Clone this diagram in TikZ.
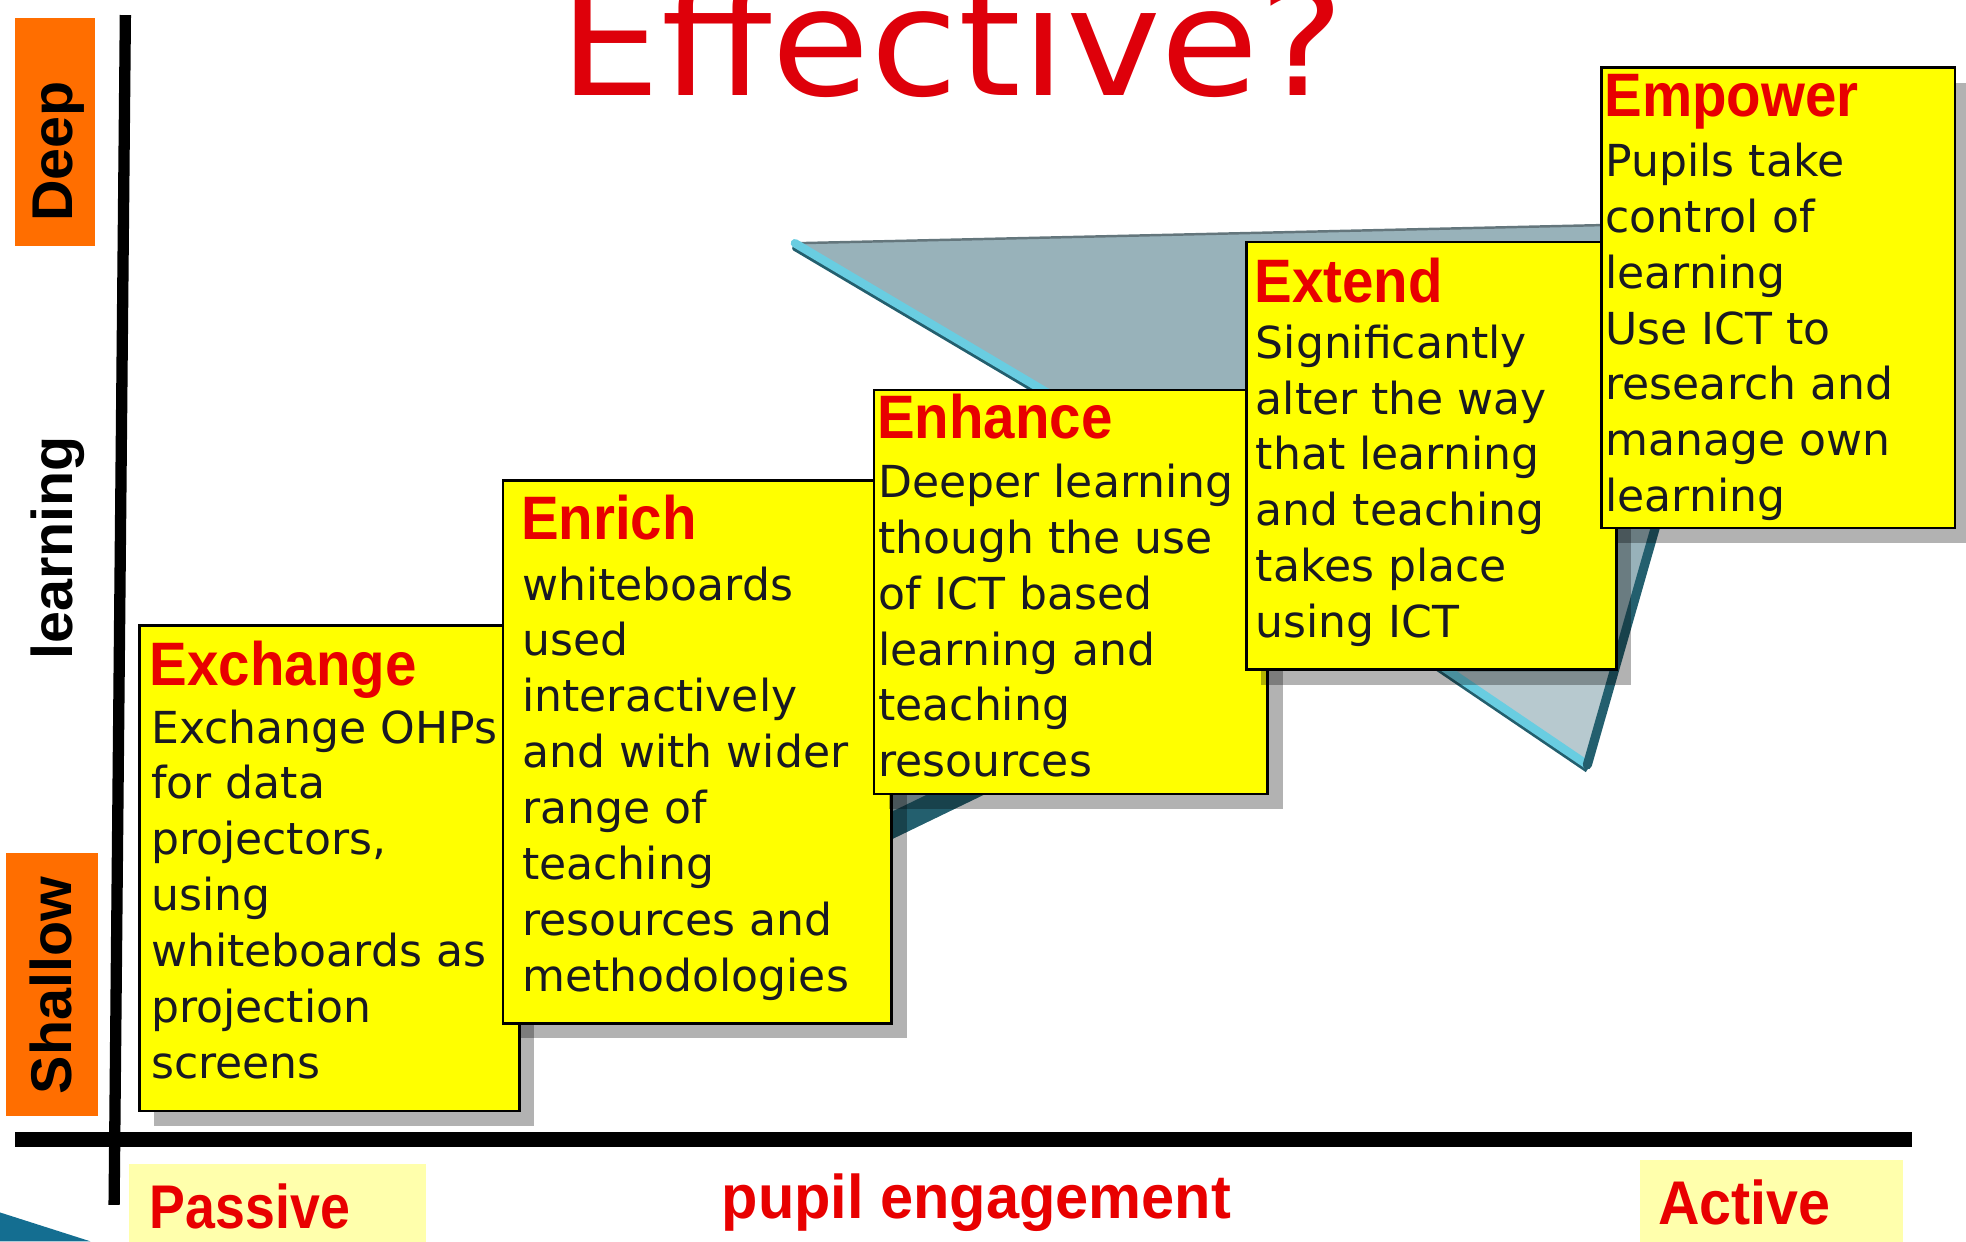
\documentclass[tikz,border=0pt]{standalone}
\usepackage{fontspec}
\usepackage{graphicx}
\setmainfont{DejaVu Sans}
\newfontfamily\labfont{Liberation Sans}
\newfontfamily\bodyfont{DejaVu Sans}
\usetikzlibrary{shadows}

\definecolor{boxyellow}{RGB}{255,255,0}
\definecolor{orangelab}{RGB}{255,110,0}
\definecolor{paleyellow}{RGB}{255,255,172}
\definecolor{headred}{RGB}{232,0,0}
\definecolor{titlered}{RGB}{222,0,10}
\definecolor{bodyink}{RGB}{25,25,35}
\definecolor{shapefill}{RGB}{152,178,186}
\definecolor{bevcyan}{RGB}{105,205,225}
\definecolor{tealdark}{RGB}{35,95,110}
\definecolor{topedge}{RGB}{100,118,124}
\definecolor{cornerteal}{RGB}{20,110,145}

\newcommand\hdtxt[1]{\scalebox{0.92}[1]{#1}}

\tikzset{
  stepbox/.style={draw=black, line width=0.75pt, fill=boxyellow, inner sep=0pt, anchor=north west,
     drop shadow={shadow xshift=0.15cm, shadow yshift=-0.15cm, fill=black, opacity=0.3}},
  headtxt/.style={anchor=base west, inner sep=0pt, text=headred,
     font=\labfont\bfseries\fontsize{17.4}{20}\selectfont},
  bodytxt/.style={anchor=north west, inner sep=0pt, align=left, text=bodyink,
     font=\bodyfont\fontsize{12.5}{15.86}\selectfont},
  orangebox/.style={fill=orangelab, draw=none, inner sep=0pt},
  palebox/.style={fill=paleyellow, draw=none, inner sep=0pt},
  sidetxt/.style={rotate=90, inner sep=0pt, text=black,
     font=\labfont\bfseries\fontsize{16.3}{19}\selectfont},
  bottomtxt/.style={anchor=base west, inner sep=0pt, text=headred,
     font=\labfont\bfseries\fontsize{17.5}{20}\selectfont},
  titletxt/.style={anchor=base west, inner sep=0pt, text=titlered,
     font=\bodyfont\fontsize{42.5}{50}\selectfont},
}

\begin{document}
\begin{tikzpicture}[x=0.0125cm, y=-0.0125cm]
\useasboundingbox (0,0) rectangle (1568,990);

% corner decoration
\fill[cornerteal] (0,967) -- (72,990) -- (0,990) -- cycle;

% title
\node[titletxt] (title) at (446,76) {\scalebox{1.07}[1]{Effective?}};

% background 3D shape
\coordinate (sA) at (634,194);
\coordinate (sB) at (1390,177);
\coordinate (sC) at (1266,610);
\coordinate (sD) at (1086,488);
\coordinate (sE) at (712,669);
\coordinate (sF) at (700,500);
\coordinate (sG) at (840,316);
\fill[shapefill] (sA) -- (sB) -- (sC) -- (sD) -- (sE) -- (sF) -- (sG) -- cycle;
\fill[shapefill!70!white] (sC) -- (1157,536) -- (1290,536) -- cycle;
\fill[tealdark] (712,669) -- (1086,488) -- (1086,466) -- (712,647) -- cycle;
\draw[topedge, line width=0.7pt] (sA) -- (sB);
\draw[tealdark, line width=1.6pt, line cap=round] ([yshift=-1.4pt]sA) -- ([yshift=-1.4pt]sG);
\draw[bevcyan, line width=2.4pt, line cap=round] (sA) -- (sG);
\draw[tealdark, line width=1.6pt] ([yshift=-1.4pt]sC) -- ([yshift=-1.4pt]sD);
\draw[bevcyan, line width=2.4pt] (sC) -- (sD);
\draw[tealdark, line width=2.6pt, line cap=round] (sB) -- (sC);

% axes
\coordinate (ytop) at (100,12);
\coordinate (ybot) at (91,961);
\coordinate (xleft) at (12,909);
\coordinate (xright) at (1525,909);
\draw[line width=3.2pt] (ytop) -- (ybot);
\draw[line width=4.3pt] (xleft) -- (xright);

% step boxes
\node[stepbox, minimum width=3.7875cm, minimum height=4.8375cm] (exbox) at (110,498) {};
\node[headtxt] (exhead) at (119,547) {\hdtxt{Exchange}};
\node[bodytxt] (exbody) at (120,560.8) {\strut Exchange OHPs\\for data\\projectors,\\using\\whiteboards as\\projection\\screens};

\node[stepbox, minimum width=3.875cm, minimum height=5.4125cm] (enbox) at (400,382) {};
\node[headtxt] (enhead) at (415,430) {\hdtxt{Enrich}};
\node[bodytxt] (enbody) at (416,446.8) {\strut whiteboards\\used\\interactively\\and with wider\\range of\\teaching\\resources and\\methodologies};

\node[stepbox, minimum width=3.925cm, minimum height=4.025cm] (ehbox) at (696,310) {};
\node[headtxt] (ehhead) at (699,350) {\hdtxt{Enhance}};
\node[bodytxt] (ehbody) at (700,364.8) {\strut Deeper learning\\though the use\\of ICT based\\learning and\\teaching\\resources};

\node[stepbox, minimum width=3.6875cm, minimum height=4.2625cm] (etbox) at (993,192) {};
\node[headtxt] (ethead) at (1000,241) {\hdtxt{Extend}};
\node[bodytxt] (etbody) at (1001,253.8) {\strut Significantly\\alter the way\\that learning\\and teaching\\takes place\\using ICT};

\node[stepbox, minimum width=3.525cm, minimum height=4.5875cm] (epbox) at (1276,53) {};
\node[headtxt] (ephead) at (1279,93) {\hdtxt{Empower}};
\node[bodytxt] (epbody) at (1280,108.8) {\strut Pupils take\\control of\\learning\\Use ICT to\\research and\\manage own\\learning};

% side labels
\node[orangebox, minimum width=0.8cm, minimum height=2.275cm] (deepbox) at (44,105) {};
\node[sidetxt] (deep) at (47,121) {Deep};
\node[sidetxt] (learn) at (46,437) {learning};
\node[orangebox, minimum width=0.9125cm, minimum height=2.625cm] (shallowbox) at (41.5,785) {};
\node[sidetxt] (shallow) at (41,786) {Shallow};

% bottom labels
\node[palebox, minimum width=2.9625cm, minimum height=0.8375cm] (passivebox) at (221.5,961.5) {};
\node[bottomtxt] (passive) at (119,980) {\scalebox{0.87}[1]{Passive}};
\node[bottomtxt] (engage) at (575,972) {\scalebox{0.965}[1]{pupil engagement}};
\node[palebox, minimum width=2.625cm, minimum height=0.875cm] (activebox) at (1413,960) {};
\node[bottomtxt] (active) at (1322,977) {\scalebox{0.93}[1]{Active}};
\end{tikzpicture}
\end{document}
